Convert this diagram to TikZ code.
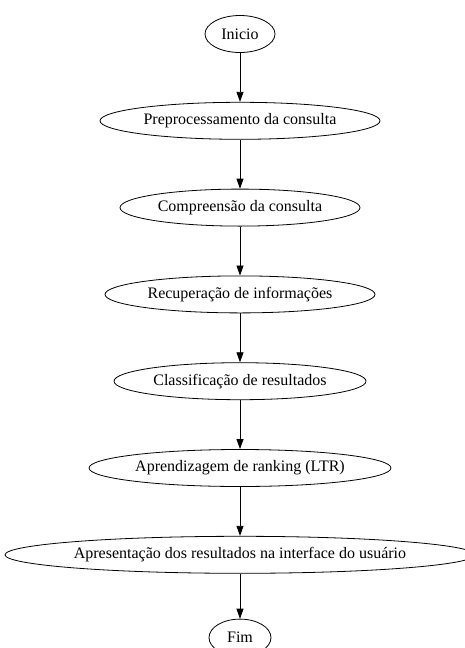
\documentclass[tikz,border=0pt]{standalone}
\usepackage{fontspec}
\setmainfont{Liberation Serif}
\usetikzlibrary{positioning, shapes.geometric, arrows.meta}

\begin{document}
\begin{tikzpicture}[x=1pt, y=-1pt,
    etapa/.style={ellipse, draw, line width=0.8pt, minimum height=37pt, inner sep=0pt, font=\fontsize{16}{19}\selectfont},
    seta/.style={-{Triangle[length=10pt, width=7pt]}, line width=0.8pt}]
        \useasboundingbox (0,0) rectangle (464,648);
        \node [etapa, minimum width=70pt] (inicio) at (240,34) {Inicio};
        \node [etapa, minimum width=280pt, below=49pt of inicio] (prep) {Preprocessamento da consulta};
        \node [etapa, minimum width=240pt, below=49pt of prep] (comp) {Compreensão da consulta};
        \node [etapa, minimum width=270pt, below=49pt of comp] (recup) {Recuperação de informações};
        \node [etapa, minimum width=252pt, below=49pt of recup] (class) {Classificação de resultados};
        \node [etapa, minimum width=302pt, below=49pt of class] (ltr) {Aprendizagem de ranking (LTR)};
        \node [etapa, minimum width=458pt, below=49pt of ltr] (apres) {Apresentação dos resultados na interface do usuário};
        \node [etapa, minimum width=62pt, below=45pt of apres] (fim) {Fim};
        \draw [seta] (inicio) to (prep);
        \draw [seta] (prep) to (comp);
        \draw [seta] (comp) to (recup);
        \draw [seta] (recup) to (class);
        \draw [seta] (class) to (ltr);
        \draw [seta] (ltr) to (apres);
        \draw [seta] (apres) to (fim);
    \end{tikzpicture}
\end{document}
